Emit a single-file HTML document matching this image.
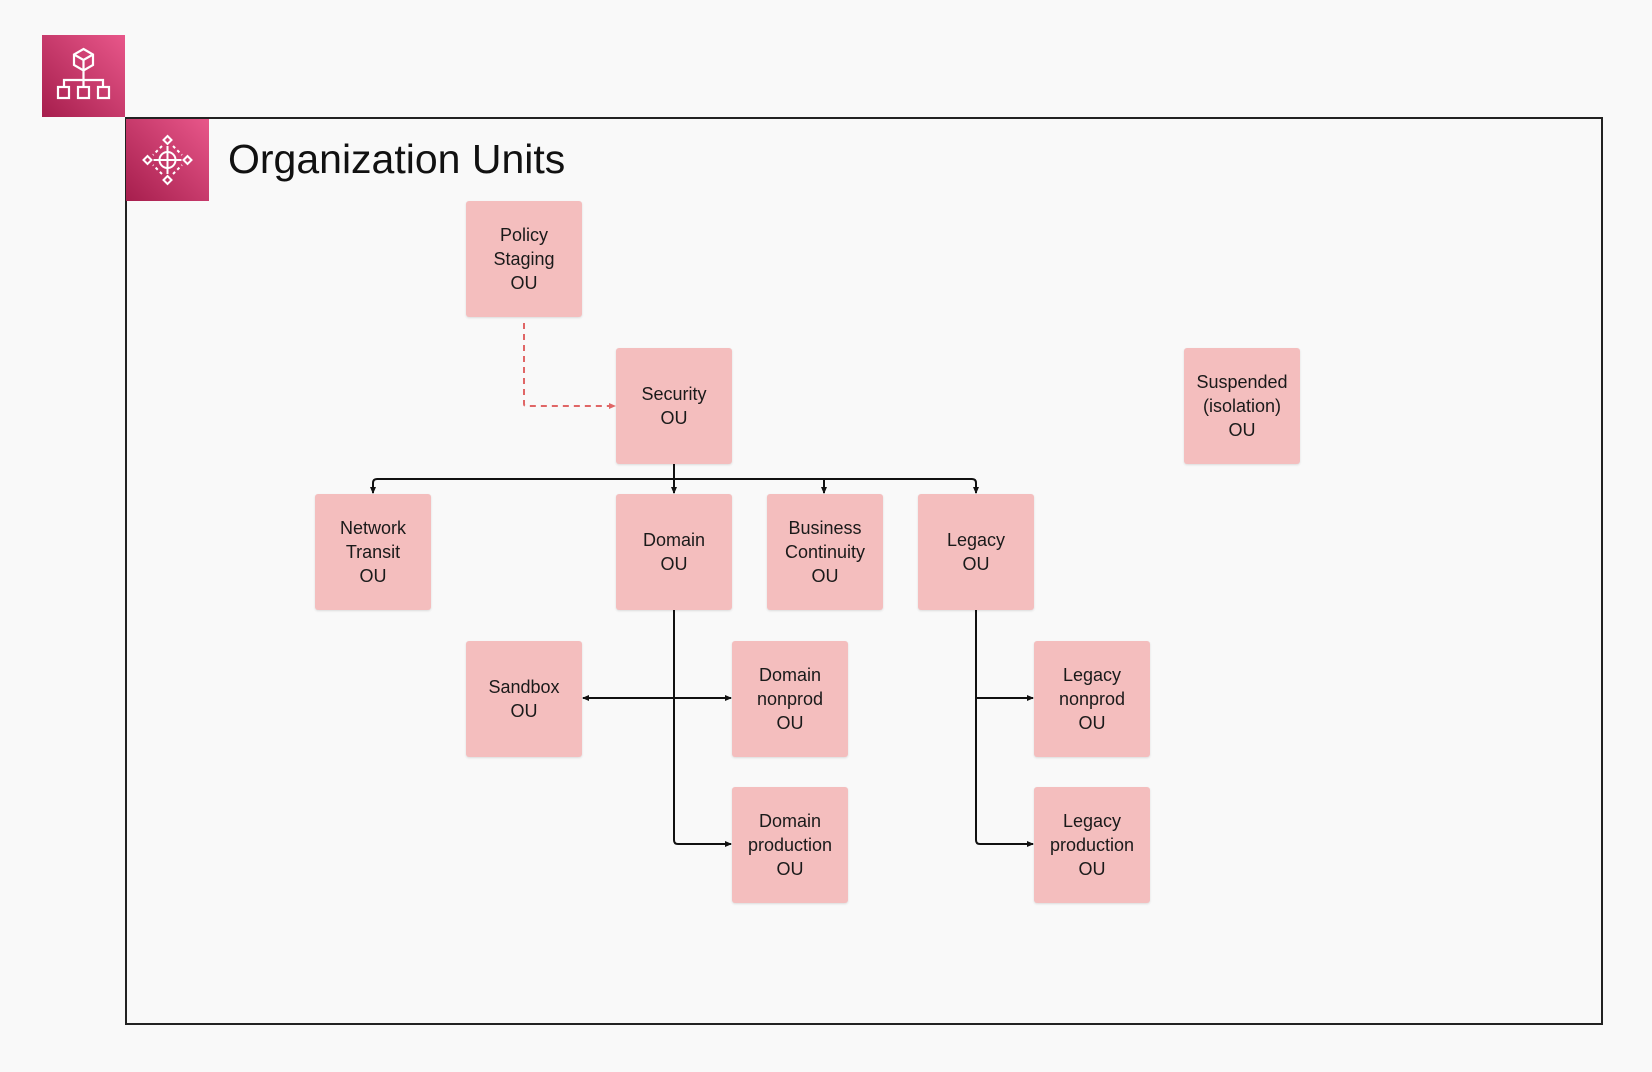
<!DOCTYPE html>
<html><head><style>
body{margin:0;width:1652px;height:1072px;background:#f9f9f9;position:relative;overflow:hidden;font-family:"Liberation Sans",sans-serif}
.b{position:absolute;width:116px;height:116px;background:#f4bebe;border-radius:3px;display:flex;align-items:center;justify-content:center;text-align:center;font-size:18px;line-height:24px;color:#1a1a1a;box-shadow:0 1px 2px rgba(0,0,0,.12)}
.ic{position:absolute;background:linear-gradient(45deg,#a61e4d,#e8578a)}
</style></head><body>
<div class="ic" style="left:42px;top:35px;width:83px;height:82px">
<svg width="83" height="82" viewBox="0 0 83 82" fill="none" stroke="#fff" stroke-width="2.2">
<path d="M41.5 14 L51 19.5 V30 L41.5 35.5 L32 30 V19.5 Z M32 19.5 L41.5 25 L51 19.5 M41.5 25 V35.5"/>
<path d="M41.5 35.5 V45 M22 52 V45 H61 V52 M41.5 45 V52"/>
<rect x="16" y="52" width="11" height="11"/><rect x="36" y="52" width="11" height="11"/><rect x="56" y="52" width="11" height="11"/>
</svg></div>
<div style="position:absolute;left:125px;top:117px;width:1474px;height:904px;border:2.5px solid #222"></div>
<div class="ic" style="left:126px;top:119px;width:83px;height:82px">
<svg width="83" height="82" viewBox="0 0 83 82" fill="none" stroke="#fff" stroke-width="2">
<circle cx="41.5" cy="41" r="8"/><path d="M41.5 27 V55 M27.5 41 H55.5"/>
<path d="M41.5 17 l4 4 -4 4 -4 -4z M41.5 57 l4 4 -4 4 -4 -4z M17.5 41 l4 -4 4 4 -4 4z M57.5 41 l4 -4 4 4 -4 4z"/>
<path d="M36 27 L27 36 M47 27 L56 36 M36 55 L27 46 M47 55 L56 46" stroke-dasharray="3 3"/>
</svg></div>
<div style="position:absolute;left:228px;top:136px;font-size:41px;color:#111">Organization Units</div>

<svg style="position:absolute;left:0;top:0" width="1652" height="1072">
<defs><marker id="a" markerWidth="8" markerHeight="8" refX="6" refY="4" orient="auto" markerUnits="userSpaceOnUse"><path d="M0 1 L7 4 L0 7z" fill="#111"/></marker>
<marker id="r" markerWidth="8" markerHeight="8" refX="6" refY="4" orient="auto" markerUnits="userSpaceOnUse"><path d="M0 1 L7 4 L0 7z" fill="#e06666"/></marker></defs>
<path d="M524 323 V404 Q524 406 526 406 H615" stroke="#e06666" stroke-width="2" stroke-dasharray="6 5" fill="none" marker-end="url(#r)"/>
<g stroke="#111" stroke-width="2" fill="none">
<path d="M674 464 V479"/>
<path d="M674 479 H377 Q373 479 373 483 V493" marker-end="url(#a)"/>
<path d="M674 479 H972 Q976 479 976 483 V493" marker-end="url(#a)"/>
<path d="M674 479 V493" marker-end="url(#a)"/>
<path d="M824 479 V493" marker-end="url(#a)"/>
<path d="M674 610 V840 Q674 844 678 844 H731" marker-end="url(#a)"/>
<path d="M674 698 H731" marker-end="url(#a)"/>
<path d="M674 698 H583" marker-end="url(#a)"/>
<path d="M976 610 V840 Q976 844 980 844 H1033" marker-end="url(#a)"/>
<path d="M976 698 H1033" marker-end="url(#a)"/>
</g></svg>

<div class="b" style="left:466px;top:201px">Policy<br>Staging<br>OU</div>
<div class="b" style="left:616px;top:348px">Security<br>OU</div>
<div class="b" style="left:1184px;top:348px">Suspended<br>(isolation)<br>OU</div>
<div class="b" style="left:315px;top:494px">Network<br>Transit<br>OU</div>
<div class="b" style="left:616px;top:494px">Domain<br>OU</div>
<div class="b" style="left:767px;top:494px">Business<br>Continuity<br>OU</div>
<div class="b" style="left:918px;top:494px">Legacy<br>OU</div>
<div class="b" style="left:466px;top:641px">Sandbox<br>OU</div>
<div class="b" style="left:732px;top:641px">Domain<br>nonprod<br>OU</div>
<div class="b" style="left:1034px;top:641px">Legacy<br>nonprod<br>OU</div>
<div class="b" style="left:732px;top:787px">Domain<br>production<br>OU</div>
<div class="b" style="left:1034px;top:787px">Legacy<br>production<br>OU</div>
</body></html>
